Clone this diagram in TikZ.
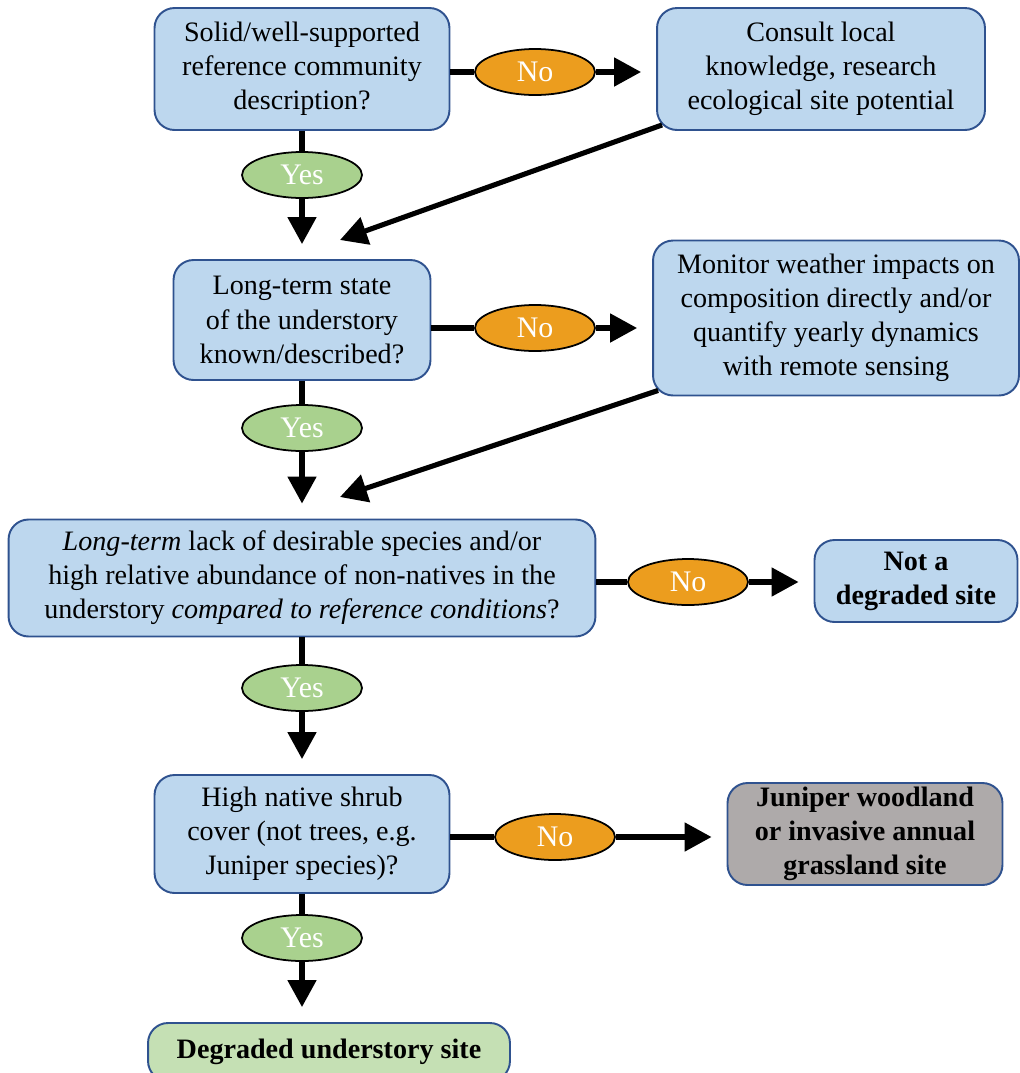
\documentclass[tikz,border=0pt]{standalone}
\usepackage{fontspec}
\setmainfont{Liberation Serif}
\usetikzlibrary{positioning,arrows.meta,shapes.geometric}
\definecolor{boxblue}{RGB}{189,215,238}
\definecolor{edgeblue}{RGB}{47,82,143}
\definecolor{noorange}{RGB}{236,157,30}
\definecolor{yesgreen}{RGB}{169,209,142}
\definecolor{endgreen}{RGB}{197,224,180}
\definecolor{endgrey}{RGB}{174,170,170}

\begin{document}
\begin{tikzpicture}[x=0.02cm, y=-0.02cm,
  font=\fontsize{16}{19.4}\selectfont,
  box/.style={draw=edgeblue, fill=boxblue, line width=1.1pt, rounded corners=0.4cm, align=center, inner sep=2pt},
  res/.style={box, font=\fontsize{16}{19.4}\selectfont\bfseries},
  noell/.style={ellipse, draw=black, fill=noorange, line width=1pt, text=white, minimum width=2.4cm, minimum height=0.92cm, inner sep=0pt, font=\fontsize{17}{20}\selectfont},
  yesell/.style={noell, fill=yesgreen},
  ln/.style={line width=2.9pt},
  arr/.style={ln, -{Triangle[length=0.54cm, width=0.56cm]}, shorten >=0.3cm}
]
\useasboundingbox (0,0) rectangle (1020,1073);
% first question
\node[box, minimum width=5.9cm, minimum height=2.44cm] (q1) at (302,69) {Solid/well-supported\\reference community\\description?};
\node[box, minimum width=6.56cm, minimum height=2.44cm] (c1) at (821,69) {Consult local\\knowledge, research\\ecological site potential};
\node[noell] (n1) at (535,72) {No};
\node[yesell] (y1) at (302,175) {Yes};
% second question
\node[box, minimum width=5.14cm, minimum height=2.4cm] (q2) at (302,320) {Long-term state\\of the understory\\known/described?};
\node[box, minimum width=7.32cm, minimum height=3.1cm] (c2) at (836,318) {Monitor weather impacts on\\composition directly and/or\\quantify yearly dynamics\\with remote sensing};
\node[noell] (n2) at (535,328) {No};
\node[yesell] (y2) at (302,428) {Yes};
% third question
\node[box, minimum width=11.74cm, minimum height=2.34cm] (q3) at (302,578) {\textit{Long-term} lack of desirable species and/or\\high relative abundance of non-natives in the\\understory \textit{compared to reference conditions}?};
\node[noell] (n3) at (688,582) {No};
\node[res, minimum width=4.06cm, minimum height=1.64cm] (nd) at (916,581) {Not a\\degraded site};
\node[yesell] (y3) at (302,688) {Yes};
% fourth question
\node[box, minimum width=5.9cm, minimum height=2.36cm] (q4) at (302,834) {High native shrub\\cover (not trees, e.g.\\Juniper species)?};
\node[noell] (n4) at (555,837) {No};
\node[res, fill=endgrey, minimum width=5.5cm, minimum height=2.04cm] (jw) at (865,834) {Juniper woodland\\or invasive annual\\grassland site};
\node[yesell] (y4) at (302,938) {Yes};
\node[res, fill=endgreen, minimum width=7.24cm, minimum height=1.16cm] (deg) at (329,1052) {Degraded understory site};
% connectors
\coordinate (d1) at (340,240);
\coordinate (d2) at (340,497);
\draw[ln] (q1.east |- n1) -- (n1); \draw[arr] (n1) -- (n1 -| c1.west);
\draw[ln] (q2.east |- n2) -- (n2); \draw[arr] (n2) -- (n2 -| c2.west);
\draw[ln] (q3.east |- n3) -- (n3); \draw[arr] (n3) -- (n3 -| nd.west);
\draw[ln] (q4.east |- n4) -- (n4); \draw[arr] (n4) -- (n4 -| jw.west);
\draw[ln] (q1) -- (y1); \draw[arr] (y1) -- (q2);
\draw[ln] (q2) -- (y2); \draw[arr] (y2) -- (q3);
\draw[ln] (q3) -- (y3); \draw[arr] (y3) -- (q4);
\draw[ln] (q4) -- (y4); \draw[arr] (y4) -- (y4 |- deg.north);
\draw[arr, shorten >=0pt] ([shift={(6,-6)}]c1.south west) -- (d1);
\draw[arr, shorten >=0pt] ([shift={(6,-6)}]c2.south west) -- (d2);
\end{tikzpicture}
\end{document}
